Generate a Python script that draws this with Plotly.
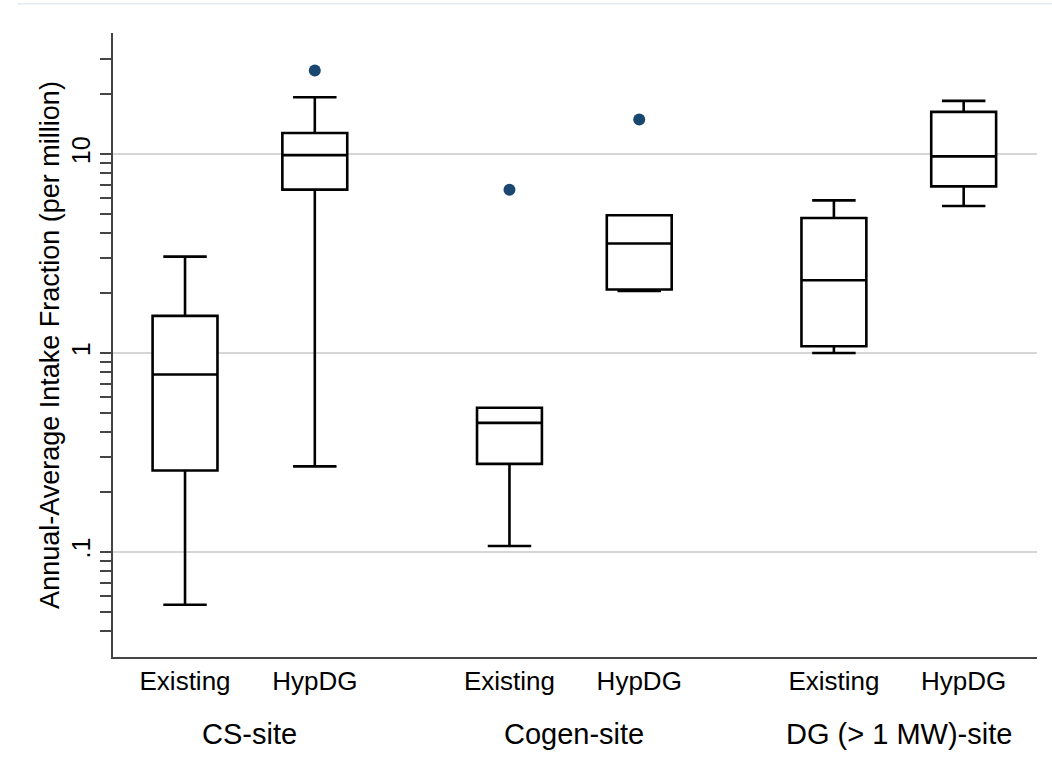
import math
import plotly.graph_objects as go

# Box summary statistics (per million), read per site and scenario
sites = ["CS-site", "Cogen-site", "DG (> 1 MW)-site"]
scenarios = ["Existing", "HypDG"]

lower_adj = [0.0542, 0.269, 0.107, 2.05, 1.0, 5.48]
q1_vals = [0.2565, 6.62, 0.277, 2.083, 1.08, 6.88]
medians = [0.779, 9.88, 0.445, 3.55, 2.32, 9.73]
q3_vals = [1.535, 12.75, 0.53, 4.92, 4.77, 16.3]
upper_adj = [3.05, 19.3, 0.53, 4.92, 5.85, 18.5]

# Outside values: (box index, value)
outlier_box = [1, 2, 3]
outlier_vals = [26.3, 6.62, 14.9]

# Major / minor y ticks
major_ticks = [0.1, 1, 10]
major_text = [".1", "1", "10"]
minor_ticks = [0.04, 0.05, 0.06, 0.07, 0.08, 0.09,
               0.2, 0.3, 0.4, 0.5, 0.6, 0.7, 0.8, 0.9,
               2, 3, 4, 5, 6, 7, 8, 9, 20, 30]

# x positions: two boxes per site, with a gap between sites
positions = []
labels = []
for g, _ in enumerate(sites):
    for k, sc in enumerate(scenarios):
        positions.append(g * 5 + k * 2)
        labels.append(sc)

font_family = "Liberation Sans, Arial, Helvetica, sans-serif"
navy = "#1a476f"

fig = go.Figure()
fig.add_trace(go.Box(
    x=positions,
    q1=q1_vals,
    median=medians,
    q3=q3_vals,
    lowerfence=lower_adj,
    upperfence=upper_adj,
    width=1.0,
    whiskerwidth=0.67,
    fillcolor="white",
    line=dict(color="black", width=2.6),
    boxpoints=False,
    showlegend=False,
))
fig.add_trace(go.Scatter(
    x=[positions[i] for i in outlier_box],
    y=outlier_vals,
    mode="markers",
    marker=dict(color=navy, size=12),
    showlegend=False,
))

# Site labels beneath each pair of boxes
for g, name in enumerate(sites):
    xc = (positions[2 * g] + positions[2 * g + 1]) / 2
    fig.add_annotation(x=xc, y=-0.124, xref="x", yref="paper",
                       text=name, showarrow=False,
                       font=dict(family=font_family, size=29, color="black"),
                       xanchor="center", yanchor="middle")

fig.update_layout(
    width=1052, height=769,
    margin=dict(l=113, r=15, t=33, b=112),
    paper_bgcolor="white",
    plot_bgcolor="white",
    font=dict(family=font_family, size=24, color="black"),
    shapes=[dict(type="line", xref="paper", yref="paper",
                 x0=-0.103, x1=1.02, y0=1.047, y1=1.047,
                 line=dict(color="#e2ebef", width=1.5))],
)
fig.update_xaxes(
    range=[-1.11, 13.13],
    tickmode="array", tickvals=positions, ticktext=labels,
    showgrid=False, zeroline=False,
    showline=True, linecolor="#444444", linewidth=1.5,
    ticks="", tickfont=dict(size=26),
)
fig.update_yaxes(
    type="log",
    range=[math.log10(0.0296), math.log10(40.6)],
    tickmode="array", tickvals=major_ticks, ticktext=major_text,
    tickangle=-90,
    ticks="outside", ticklen=11, tickwidth=1.5, tickcolor="#444444",
    showgrid=True, gridcolor="#d6d6d6", gridwidth=2,
    zeroline=False,
    showline=True, linecolor="#444444", linewidth=1.5,
    minor=dict(tickmode="array", tickvals=minor_ticks, ticks="outside",
               ticklen=11, tickwidth=1.5, tickcolor="#444444", showgrid=False),
    title=dict(text="Annual-Average Intake Fraction (per million)",
               font=dict(size=27), standoff=0),
    tickfont=dict(size=25),
)

fig.write_html("out.html")
